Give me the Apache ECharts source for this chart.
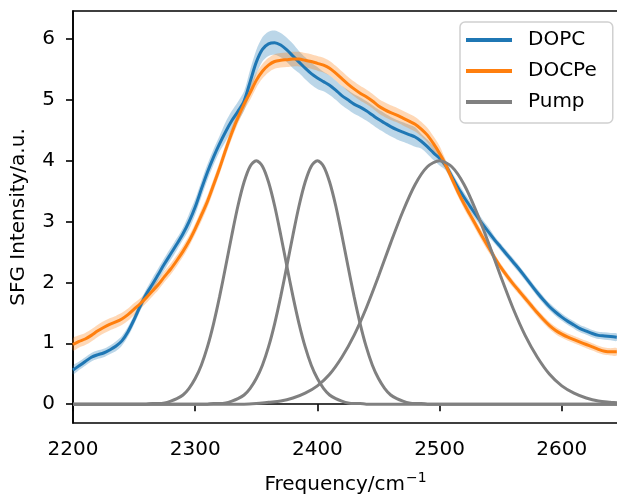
<!DOCTYPE html>
<html>
<head>
<meta charset="utf-8">
<script src="https://cdn.jsdelivr.net/npm/echarts@6/dist/echarts.min.js"></script>
<style>html,body{margin:0;padding:0;background:#fff;}#chart{width:617px;height:495px;}</style>
</head>
<body>
<div id="chart"></div>
<script>
const freq = [2200,2205,2210,2215,2220,2225,2230,2235,2240,2245,2250,2255,2260,2265,2270,2275,2280,2285,2290,2295,
2300,2305,2310,2315,2320,2325,2330,2335,2340,2345,2350,2355,2360,2365,2370,2375,2380,2385,2390,2395,
2400,2405,2410,2415,2420,2425,2430,2435,2440,2445,2450,2455,2460,2465,2470,2475,2480,2485,2490,2495,
2500,2505,2510,2515,2520,2525,2530,2535,2540,2545,2550,2555,2560,2565,2570,2575,2580,2585,2590,2595,
2600,2605,2610,2615,2620,2625,2630,2635,2640,2645];
const dopc = [0.56,0.63,0.70,0.77,0.81,0.84,0.89,0.95,1.04,1.19,1.39,1.61,1.81,1.97,2.14,2.31,2.47,2.63,2.80,3.00,
3.24,3.53,3.81,4.06,4.28,4.48,4.66,4.81,4.98,5.30,5.62,5.83,5.92,5.94,5.90,5.82,5.72,5.62,5.52,5.43,
5.36,5.30,5.24,5.16,5.07,5.00,4.93,4.88,4.82,4.75,4.68,4.62,4.56,4.51,4.47,4.43,4.39,4.32,4.23,4.13,
4.04,3.92,3.74,3.56,3.40,3.25,3.10,2.96,2.83,2.70,2.58,2.46,2.34,2.22,2.09,1.96,1.83,1.71,1.60,1.51,
1.43,1.36,1.30,1.24,1.20,1.16,1.13,1.12,1.11,1.10];
const dopcErr = [0.07,0.07,0.07,0.07,0.07,0.07,0.07,0.08,0.08,0.08,0.08,0.08,0.08,0.10,0.10,0.10,0.10,0.10,0.10,0.13,
0.13,0.13,0.13,0.13,0.13,0.16,0.16,0.16,0.16,0.20,0.20,0.20,0.20,0.20,0.20,0.20,0.20,0.18,0.18,0.18,
0.18,0.16,0.16,0.16,0.16,0.16,0.16,0.16,0.16,0.16,0.16,0.16,0.16,0.16,0.16,0.16,0.16,0.12,0.12,0.12,
0.12,0.08,0.08,0.08,0.08,0.08,0.08,0.08,0.08,0.06,0.06,0.06,0.06,0.06,0.06,0.06,0.06,0.06,0.06,0.06,
0.06,0.06,0.06,0.06,0.06,0.06,0.06,0.06,0.06,0.06];
const docpe = [0.98,1.03,1.07,1.13,1.20,1.26,1.31,1.35,1.40,1.47,1.56,1.65,1.75,1.86,1.97,2.10,2.22,2.36,2.51,2.68,
2.88,3.10,3.33,3.60,3.88,4.18,4.46,4.71,4.93,5.12,5.32,5.47,5.57,5.63,5.65,5.66,5.67,5.67,5.65,5.63,
5.60,5.57,5.52,5.44,5.35,5.26,5.18,5.11,5.05,4.98,4.90,4.84,4.79,4.75,4.70,4.65,4.60,4.52,4.42,4.28,
4.12,3.93,3.71,3.49,3.29,3.11,2.93,2.75,2.58,2.41,2.25,2.11,1.98,1.86,1.74,1.62,1.50,1.39,1.29,1.21,
1.15,1.10,1.06,1.02,0.98,0.94,0.90,0.87,0.86,0.86];
const docpeErr = [0.10,0.10,0.10,0.10,0.10,0.10,0.10,0.10,0.10,0.10,0.10,0.09,0.09,0.09,0.09,0.09,0.09,0.09,0.09,0.09,
0.09,0.10,0.10,0.10,0.10,0.10,0.10,0.10,0.10,0.12,0.12,0.12,0.12,0.12,0.12,0.12,0.12,0.12,0.12,0.12,
0.12,0.12,0.12,0.12,0.12,0.12,0.12,0.12,0.12,0.12,0.12,0.12,0.12,0.12,0.12,0.12,0.12,0.12,0.12,0.12,
0.12,0.08,0.08,0.08,0.08,0.08,0.08,0.08,0.08,0.06,0.06,0.06,0.06,0.06,0.06,0.06,0.06,0.06,0.06,0.06,
0.06,0.06,0.06,0.06,0.06,0.06,0.06,0.06,0.06,0.06];
const pump1X = [2200,2260,2265,2270,2275,2280,2285,2290,2295,2300,2305,2310,2315,2320,2325,2330,2335,2340,2345,2350,
2355,2360,2365,2370,2375,2380,2385,2390,2395,2400,2405,2410,2415,2420,2425,2430,2435,2440,2646];
const pump1Y = [0,0.00,0.01,0.01,0.02,0.05,0.09,0.15,0.26,0.42,0.64,0.94,1.32,1.77,2.27,2.78,3.26,3.65,3.91,4.00,
3.91,3.65,3.26,2.78,2.27,1.77,1.32,0.94,0.64,0.42,0.26,0.15,0.09,0.05,0.02,0.01,0.01,0.00,0];
const pump2X = [2200,2310,2315,2320,2325,2330,2335,2340,2345,2350,2355,2360,2365,2370,2375,2380,2385,2390,2395,2400,
2405,2410,2415,2420,2425,2430,2435,2440,2445,2450,2455,2460,2465,2470,2475,2480,2485,2490,2646];
const pump2Y = [0,0.00,0.01,0.01,0.02,0.05,0.09,0.15,0.26,0.42,0.64,0.94,1.32,1.77,2.27,2.78,3.26,3.65,3.91,4.00,
3.91,3.65,3.26,2.78,2.27,1.77,1.32,0.94,0.64,0.42,0.26,0.15,0.09,0.05,0.02,0.01,0.01,0.00,0];
const pump3X = [2200,2340,2350,2360,2370,2380,2390,2400,2410,2420,2430,2440,2450,2460,2470,2480,2490,2500,
2510,2520,2530,2540,2550,2560,2570,2580,2590,2600,2610,2620,2630,2640,2646];
const pump3Y = [0,0.00,0.01,0.03,0.05,0.10,0.18,0.30,0.49,0.77,1.13,1.58,2.10,2.65,3.17,3.61,3.90,4.00,
3.90,3.61,3.17,2.65,2.10,1.58,1.13,0.77,0.49,0.30,0.18,0.10,0.05,0.03,0.02];
const xTicks = [2200,2300,2400,2500,2600];
const yTicks = [0,1,2,3,4,5,6];
const names = ['DOPC','DOCPe','Pump'];

const FONT = 'DejaVu Sans';
function pairs(xs, ys){ return xs.map((x,i)=>[x, ys[i]]); }
function band(xs, ys, err, color){
  return {
    type:'custom', coordinateSystem:'cartesian2d', silent:true, z:1,
    data:[[xs[0], ys[0]]],
    renderItem:function(params, api){
      const pts=[];
      for(let i=0;i<xs.length;i++) pts.push(api.coord([xs[i], ys[i]+err[i]]));
      for(let i=xs.length-1;i>=0;i--) pts.push(api.coord([xs[i], ys[i]-err[i]]));
      return {type:'polygon', shape:{points:pts, smooth:0.3}, style:{fill:color}};
    }
  };
}
function line(name, xs, ys, color, z){
  return {type:'line', name:name, data:pairs(xs,ys), showSymbol:false, smooth:0.3, z:z,
    lineStyle:{color:color, width:3}, itemStyle:{color:color}};
}
const chart = echarts.init(document.getElementById('chart'), null, {renderer:'canvas'});
chart.setOption({
  animation:false,
  backgroundColor:'#fff',
  grid:{left:73, right:-1, top:11, bottom:72, outerBoundsMode:'none', containLabel:false,
    show:true, borderColor:'#000', borderWidth:1.6, backgroundColor:'transparent'},
  legend:{
    data:names, orient:'vertical', left:460, top:22, icon:'rect', itemWidth:46, itemHeight:4, itemGap:7,
    backgroundColor:'#fff', borderColor:'#d0d0d0', borderWidth:1.5, borderRadius:5, padding:[6,16,9,6],
    textStyle:{fontFamily:FONT, fontSize:20, color:'#000', lineHeight:24, padding:[0,0,0,11]}
  },
  xAxis:{
    type:'value', min:2200, max:2646,
    name:'{b|Frequency/cm}{sup|\u22121}', nameLocation:'middle', nameGap:42,
    nameTextStyle:{fontFamily:FONT, fontSize:20, color:'#000', rich:{
      b:{fontFamily:FONT, fontSize:20, color:'#000', lineHeight:30, verticalAlign:'bottom'},
      sup:{fontFamily:FONT, fontSize:14, color:'#000', lineHeight:20, verticalAlign:'top', padding:[6,0,0,1]}}},
    axisLine:{show:true, lineStyle:{color:'#000', width:1.6}},
    axisTick:{show:true, length:7, lineStyle:{color:'#000', width:1.6}, customValues:xTicks},
    axisLabel:{fontFamily:FONT, fontSize:20, color:'#000', margin:17, customValues:xTicks, formatter:function(v){return String(v);}},
    splitLine:{show:false}
  },
  yAxis:{
    type:'value', min:-0.31, max:6.46,
    name:'SFG Intensity/a.u.', nameLocation:'middle', nameGap:44,
    nameTextStyle:{fontFamily:FONT, fontSize:20, color:'#000'},
    axisLine:{show:true, lineStyle:{color:'#000', width:1.6}},
    axisTick:{show:true, length:7, lineStyle:{color:'#000', width:1.6}, customValues:yTicks},
    axisLabel:{fontFamily:FONT, fontSize:20, color:'#000', margin:18, customValues:yTicks, formatter:function(v){return String(v);}},
    splitLine:{show:false}
  },
  series:[
    band(freq, dopc, dopcErr, 'rgba(31,119,180,0.3)'),
    line('DOPC', freq, dopc, '#1f77b4', 2),
    band(freq, docpe, docpeErr, 'rgba(255,127,14,0.3)'),
    line('DOCPe', freq, docpe, '#ff7f0e', 3),
    line('Pump', pump1X, pump1Y, '#808080', 4),
    line('Pump', pump2X, pump2Y, '#808080', 4),
    line('Pump', pump3X, pump3Y, '#808080', 4)
  ]
});
</script>
</body>
</html>
